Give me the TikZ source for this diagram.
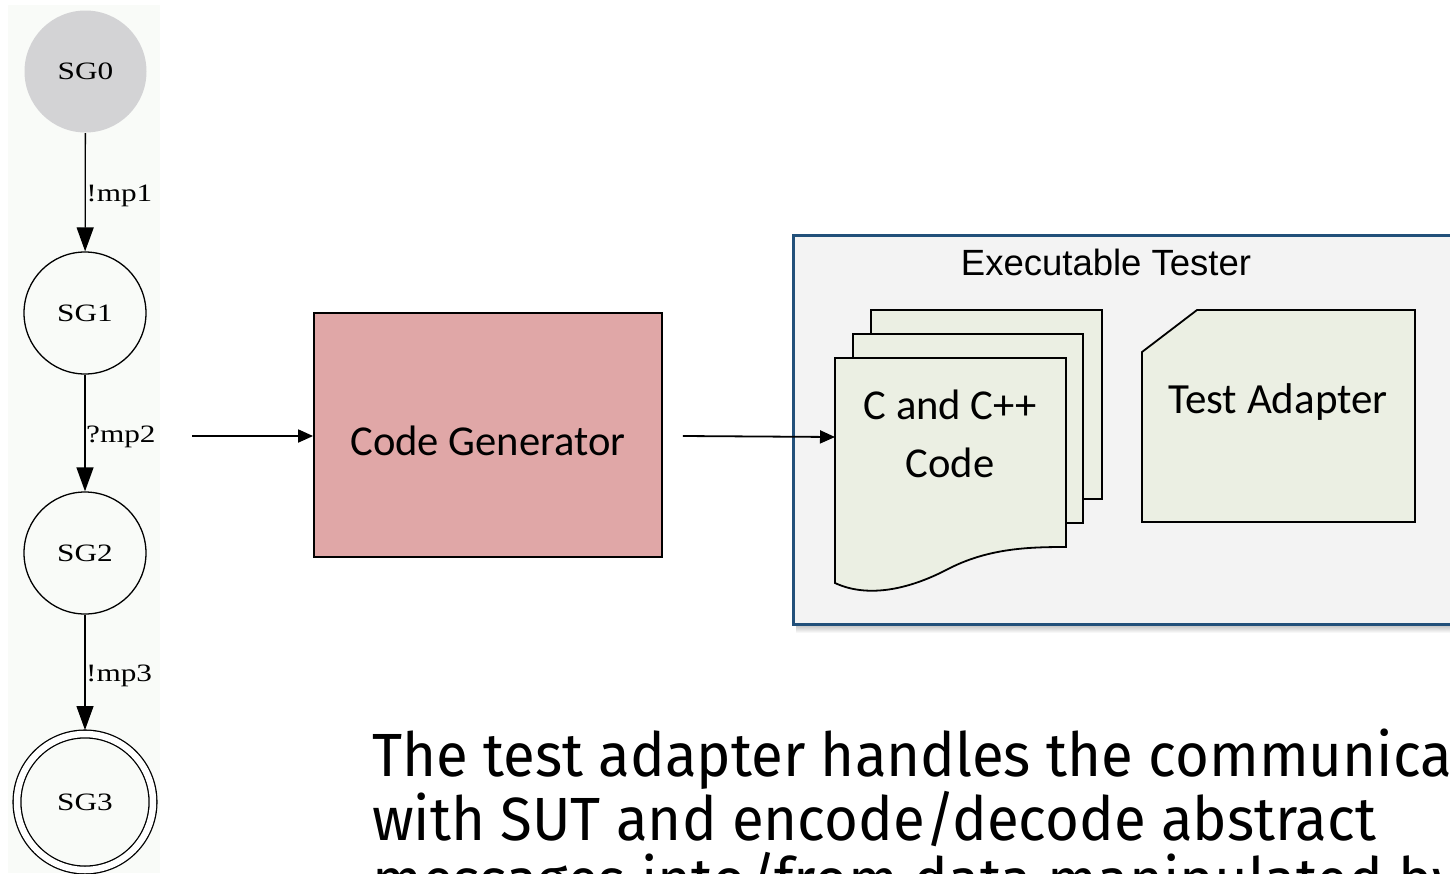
\documentclass[tikz,border=0pt]{standalone}
\usepackage{fontspec}
\usetikzlibrary{arrows.meta}
\newfontfamily\carlito{Carlito}
\newfontfamily\arialf{Liberation Sans}
\newfontfamily\timesf{Liberation Serif}
\newfontfamily\firaf{Fira Sans}
\definecolor{genfill}{RGB}{224,167,167}
\definecolor{docfill}{RGB}{235,239,227}
\definecolor{testerfill}{RGB}{243,243,243}
\definecolor{testerline}{RGB}{34,80,122}
\definecolor{statefill}{RGB}{211,211,213}
\definecolor{panelfill}{RGB}{249,251,248}
\newcommand{\wide}[1]{\scalebox{1.25}[1]{#1}}
\newcommand{\narrowline}[1]{\scalebox{0.953}[1]{#1}}
\begin{document}
\begin{tikzpicture}[x=1pt,y=-1pt,
  state/.style={circle,draw,line width=1.3pt,minimum size=122pt,inner sep=0pt,
    font=\timesf\fontsize{25}{25}\selectfont},
  edgelbl/.style={anchor=west,inner sep=0.5pt,yshift=-4pt,font=\timesf\fontsize{25}{25}\selectfont},
  statearrow/.style={line width=1.3pt,-{Triangle[length=24pt,width=17pt]}},
  flow/.style={line width=1.8pt,-{Triangle[length=15pt,width=13pt]}},
  genbox/.style={rectangle,draw,line width=1.8pt,fill=genfill,minimum width=348pt,
    minimum height=244pt,inner sep=0pt},
  genlabel/.style={font=\carlito\fontsize{42.6}{42.6}\selectfont,inner sep=0pt,yshift=-6pt},
  testerbox/.style={rectangle,draw=testerline,line width=3pt,fill=testerfill,
    minimum width=690pt,minimum height=389pt,inner sep=0pt},
  page/.style={draw,line width=1.8pt,fill=docfill,line join=miter},
  doctext/.style={font=\carlito\fontsize{42.6}{58}\selectfont,align=center,inner sep=0pt}
]
\useasboundingbox (0,0) rectangle (1450,873);
\clip (0,0) rectangle (1450,873);
\fill[white] (0,0) rectangle (1450,873);

% state graph panel
\fill[panelfill] (8,5) rectangle (160,873);
\node[state,fill=statefill,draw=none] (sg0) at (85.5,71.5) {\wide{SG0}};
\node[state] (sg1) at (85,313) {\wide{SG1}};
\node[state] (sg2) at (85,553) {\wide{SG2}};
\node[state,minimum size=136pt,double,double distance=6.5pt,outer sep=4pt] (sg3) at (85,802) {\wide{SG3}};
\draw[statearrow] (sg0) -- node[edgelbl]{\wide{!mp1}} (sg1);
\draw[statearrow] (sg1) -- node[edgelbl]{\wide{?mp2}} (sg2);
\draw[statearrow] (sg2) -- node[edgelbl]{\wide{!mp3}} (sg3);

% code generator
\coordinate (src) at (192,436);
\node[genbox,label={[genlabel]center:Code Generator}] (gen) at (488,435) {};
\draw[flow] (src) -- (src -| gen.west);

% executable tester frame with a soft shadow under it
\foreach \i in {1,...,9}
  \fill[black,opacity=0.03] (796,235+\i) rectangle (1470,624+\i);
\node[testerbox] (tester) at (1138,429.5) {};
\node[font=\arialf\fontsize{36.5}{36.5}\selectfont,inner sep=0pt] (title) at (1106,262) {Executable Tester};

% stacked code pages
\draw[page] (871,310) rectangle (1102,499);
\draw[page] (853,334) rectangle (1083,523);
\draw[page] (835,358) -- (1066,358) -- (1066,547)
  .. controls (1030,547) and (990,548) .. (950,568)
  .. controls (905,592) and (865,597) .. (835,583) -- cycle;
\coordinate (docin) at (835,437);
\node[doctext] (code) at (950,434) {C and C++\\Code};
\draw[flow] ([xshift=20pt]gen.east |- 0,436) -- (docin);

% test adapter card
\draw[page] (1197,310) -- (1415,310) -- (1415,522) -- (1142,522) -- (1142,352) -- cycle;
\node[font=\carlito\fontsize{43}{43}\selectfont,inner sep=0pt] (adapter) at (1278,402) {Test Adapter};

% note (base anchor sits on the last line)
\node[font=\firaf\fontsize{61}{61}\selectfont,align=left,anchor=base west,inner sep=0pt] (note) at (372,901)
  {\narrowline{The test adapter handles the communication}\\
   \narrowline{with SUT and encode/decode abstract}\\
   \narrowline{messages into/from data manipulated by the code}};
\end{tikzpicture}
\end{document}
